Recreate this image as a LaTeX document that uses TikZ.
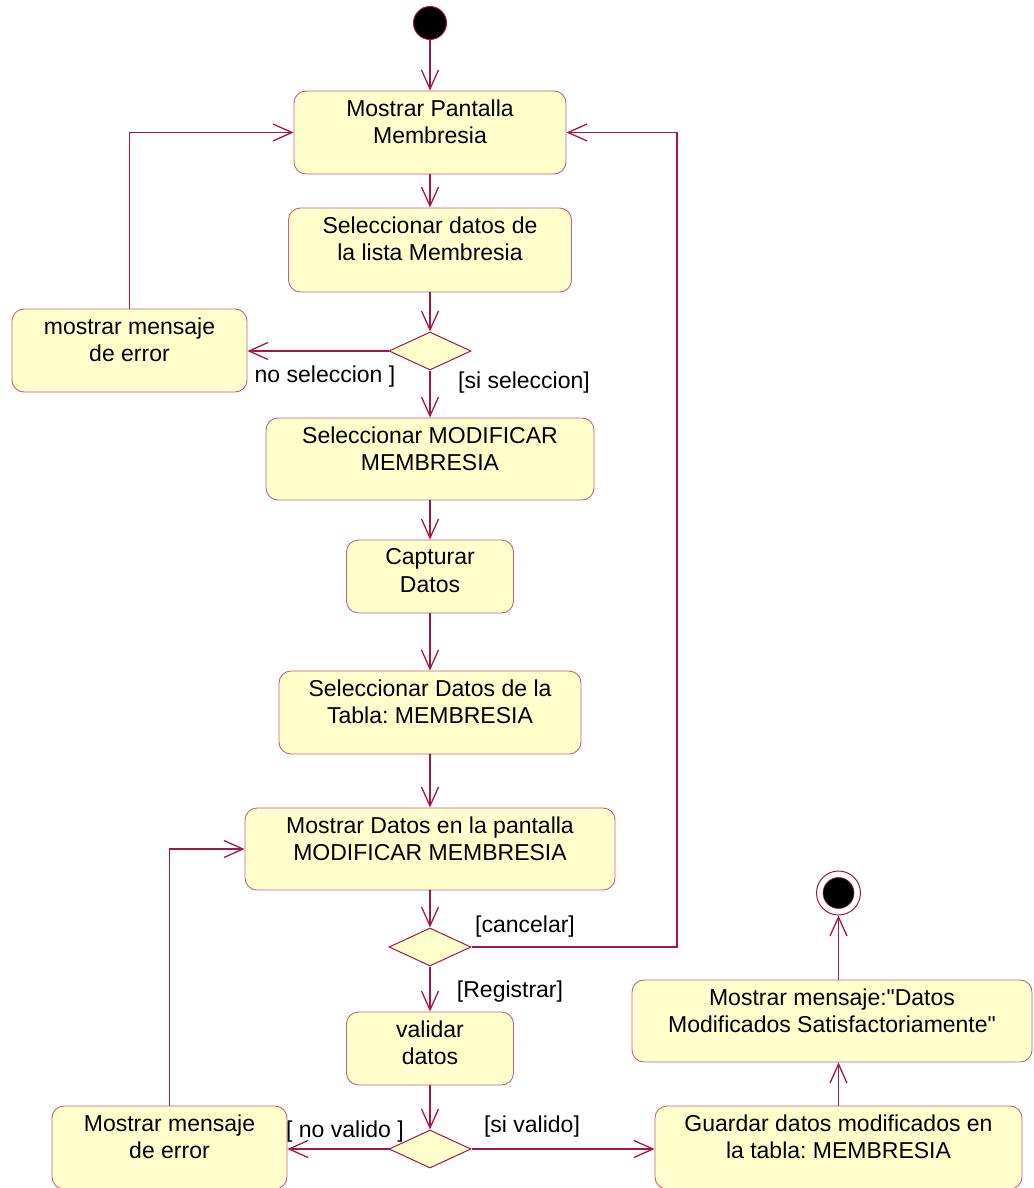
\documentclass[tikz,border=0pt]{standalone}
\usepackage{fontspec}
\setmainfont{Liberation Sans}[Ligatures=TeXOff]
\usetikzlibrary{arrows.meta,shapes.geometric,calc}
\definecolor{linec}{RGB}{165,22,72}
\definecolor{boxc}{RGB}{200,96,122}
\definecolor{fillc}{RGB}{255,255,204}
\frenchspacing
\tikzset{
  act/.style={draw=boxc, fill=fillc, rounded corners=12pt, line width=0.9pt, inner sep=0pt},
  txt/.style={align=center, inner sep=0pt, font=\fontsize{23}{27.5}\selectfont},
  lbl/.style={inner sep=0pt, font=\fontsize{23}{27.5}\selectfont},
  dec/.style={diamond, draw=linec, fill=fillc, line width=1pt, inner sep=0pt, minimum width=82pt, minimum height=38pt},
  flow/.style={draw=linec, line width=1.3pt, -{Straight Barb[length=19pt,width=17pt,line width=1.3pt]}},
  plain/.style={draw=linec, line width=1.3pt}
}
\newcommand\actbox[6]{%
  \node[act, minimum width=#4pt, minimum height=#5pt] (#1) at (#2,#3) {};
  \node[txt] (#1t) at ([yshift=-31pt]#1.north) {#6};}
\begin{document}
\begin{tikzpicture}[x=1pt,y=-1pt]
\useasboundingbox (0,0) rectangle (1033,1188);
% start
\node[circle, fill=black, draw=linec, line width=1pt, minimum size=33pt, inner sep=0pt] (start) at (430,23) {};
% activities
\actbox{b1}{430}{132.5}{272}{83}{Mostrar Pantalla\\Membresia}
\actbox{b2}{430}{250}{283}{84}{Seleccionar datos de\\la lista Membresia}
\node[dec] (d1) at (430,351) {};
\actbox{e1}{129.5}{350.5}{235}{83}{mostrar mensaje\\de error}
\actbox{b3}{430}{459}{328}{82}{Seleccionar MODIFICAR\\MEMBRESIA}
\actbox{b4}{430}{576.5}{167}{73}{Capturar\\Datos}
\actbox{b5}{430}{712.5}{302}{83}{Seleccionar Datos de la\\Tabla: MEMBRESIA}
\actbox{b6}{430}{849}{370}{82}{Mostrar Datos en la pantalla\\MODIFICAR MEMBRESIA}
\node[dec] (d2) at (430,947) {};
\actbox{b7}{430}{1048.5}{167}{73}{validar\\datos}
\node[dec] (d3) at (430,1149) {};
\actbox{e2}{169.5}{1147.5}{235}{83}{Mostrar mensaje\\de error}
\actbox{b8}{838.5}{1147.5}{367}{83}{Guardar datos modificados en\\la tabla: MEMBRESIA}
\actbox{b9}{832}{1021}{400}{82}{Mostrar mensaje:"Datos\\Modificados Satisfactoriamente"}
% end
\node[circle, fill=white, draw=linec, line width=1pt, minimum size=44pt, inner sep=0pt] (end) at (838.5,893) {};
\node[circle, fill=black, draw=linec, line width=0.6pt, minimum size=31pt, inner sep=0pt] (endin) at (end.center) {};
% flows
\draw[flow] (start) -- (b1);
\draw[flow] (b1) -- (b2);
\draw[flow] (b2) -- (d1);
\draw[flow] (d1.west) -- (d1.west -| e1.east);
\draw[flow] (e1.north) |- (b1.west);
\draw[flow] (d1) -- (b3);
\draw[flow] (b3) -- (b4);
\draw[flow] (b4) -- (b5);
\draw[flow] (b5) -- (b6);
\draw[flow] (b6) -- (d2);
\coordinate (c1) at (677,947);
\draw[flow] (d2.east) -- (c1) |- (b1.east);
\draw[flow] (d2) -- (b7);
\draw[flow] (b7) -- (d3);
\draw[flow] (d3.west) -- (d3.west -| e2.east);
\draw[flow] (e2.north) |- (b6.west);
\draw[flow] (d3.east) -- (d3.east -| b8.west);
\draw[flow] (b8.north) -- (b8.north |- b9.south);
\draw[flow] (b8.north |- b9.north) -- (end.south);
% guards
\node[lbl] (g1) at (325,377) {no seleccion ]};
\node[lbl] (g2) at (524,383) {[si seleccion]};
\node[lbl] (g3) at (525,927) {[cancelar]};
\node[lbl] (g4) at (510,992) {[Registrar]};
\node[lbl] (g5) at (345,1132) {[ no valido ]};
\node[lbl] (g6) at (532,1127) {[si valido]};
\end{tikzpicture}
\end{document}
